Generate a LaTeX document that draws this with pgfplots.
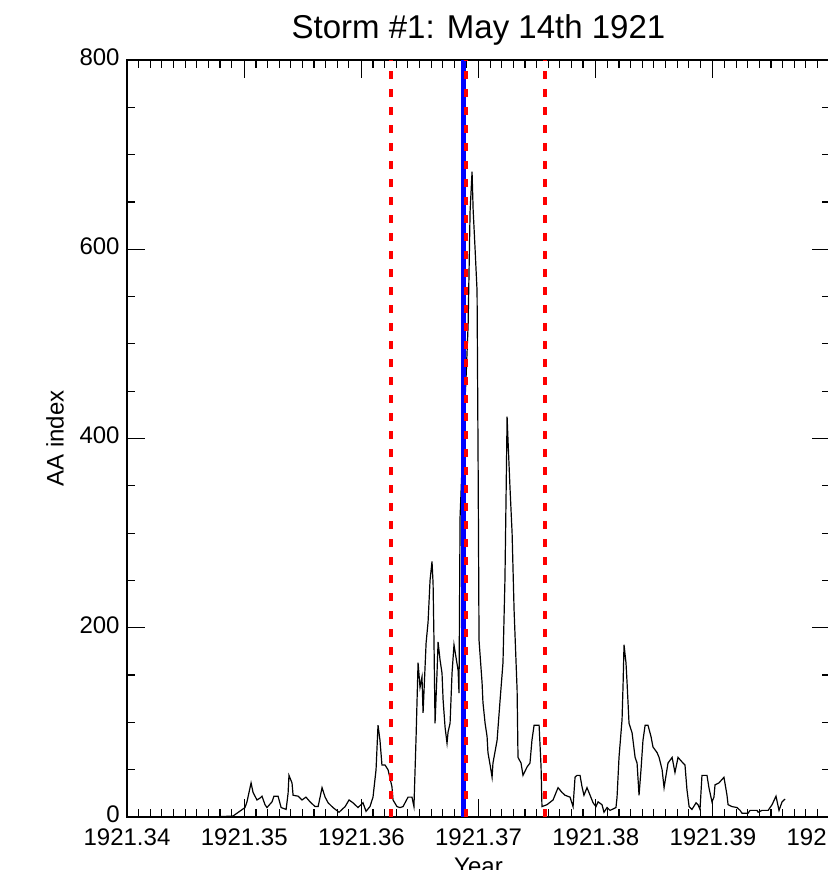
\documentclass[border=0pt]{standalone}
\usepackage{fontspec}
\setmainfont{Liberation Sans}
\usepackage{pgfplots}
\pgfplotsset{compat=1.18}
\usepackage{pgfplotstable}

\pgfplotstableread{
year aa
1921.347254 0
1921.349047 1
1921.350071 10
1921.350242 16
1921.350583 36
1921.350754 26
1921.351095 18
1921.351351 20
1921.351522 22
1921.351778 13
1921.351948 10
1921.352375 16
1921.352546 22
1921.352887 22
1921.353143 10
1921.353570 8
1921.353741 25
1921.353826 44
1921.354082 36
1921.354167 23
1921.354594 22
1921.354936 18
1921.355277 21
1921.355618 16
1921.356045 11
1921.356301 11
1921.356642 31
1921.356899 21
1921.357155 15
1921.357581 10
1921.358094 5
1921.358606 11
1921.358947 18
1921.359288 15
1921.359715 10
1921.360142 15
1921.360398 6
1921.360739 11
1921.360995 21
1921.361251 50
1921.361422 97
1921.361593 81
1921.361763 55
1921.362019 55
1921.362275 50
1921.362617 32
1921.362702 18
1921.363043 11
1921.363300 10
1921.363556 11
1921.363982 21
1921.364324 21
1921.364494 11
1921.364665 85
1921.364836 163
1921.365006 137
1921.365177 148
1921.365262 110
1921.365519 184
1921.365689 206
1921.365860 250
1921.366031 270
1921.366116 247
1921.366201 187
1921.366287 99
1921.366457 152
1921.366543 185
1921.366713 166
1921.366884 152
1921.366969 124
1921.367140 95
1921.367311 78
1921.367396 90
1921.367567 99
1921.367737 152
1921.367908 182
1921.368079 169
1921.368250 155
1921.368335 131
1921.368420 317
1921.368676 400
1921.368932 462
1921.369103 520
1921.369274 640
1921.369444 682
1921.369530 642
1921.369700 600
1921.369871 556
1921.369957 370
1921.370042 187
1921.370298 142
1921.370383 121
1921.370554 99
1921.370725 85
1921.370810 68
1921.370981 55
1921.371151 42
1921.371237 57
1921.371578 81
1921.371834 124
1921.372090 163
1921.372261 251
1921.372346 335
1921.372432 423
1921.372517 399
1921.372688 349
1921.372858 300
1921.373029 219
1921.373285 134
1921.373370 63
1921.373627 57
1921.373797 44
1921.374138 53
1921.374394 57
1921.374565 81
1921.374736 97
1921.375163 97
1921.375333 53
1921.375419 11
1921.375845 13
1921.376358 18
1921.376784 31
1921.377126 26
1921.377382 23
1921.377808 21
1921.378064 11
1921.378235 42
1921.378406 44
1921.378662 44
1921.378833 32
1921.379003 23
1921.379259 31
1921.379515 23
1921.379771 15
1921.380027 11
1921.380198 16
1921.380540 13
1921.380710 5
1921.380966 10
1921.381222 7
1921.381734 10
1921.381820 21
1921.381990 63
1921.382246 103
1921.382332 142
1921.382417 182
1921.382588 163
1921.382673 142
1921.382844 99
1921.383100 89
1921.383356 63
1921.383527 57
1921.383697 23
1921.383868 50
1921.384039 81
1921.384209 97
1921.384465 97
1921.384721 85
1921.384892 74
1921.385234 68
1921.385404 63
1921.385660 50
1921.385831 31
1921.386172 57
1921.386514 63
1921.386770 47
1921.387026 63
1921.387452 57
1921.387623 55
1921.387794 29
1921.387965 11
1921.388221 8
1921.388562 15
1921.388733 13
1921.388903 8
1921.389074 44
1921.389501 44
1921.389671 31
1921.389927 16
1921.390098 21
1921.390183 34
1921.390525 36
1921.390952 42
1921.391208 23
1921.391293 13
1921.391634 11
1921.392061 10
1921.392317 7
1921.392488 4
1921.393000 4
1921.393170 7
1921.393768 7
1921.393853 5
1921.394195 7
1921.394707 7
1921.395048 13
1921.395390 22
1921.395646 7
1921.395902 16
1921.396158 19
}\aadata

\begin{document}
\begin{tikzpicture}
\begin{axis}[
  name=ax,
  scale only axis,
  width=351.5pt, height=378.5pt,
  xmin=1921.34, xmax=1921.40,
  ymin=0, ymax=800,
  axis line style={line width=0.75pt},
  tick style={black, line width=0.6pt},
  tick align=inside,
  major tick length=9pt,
  minor tick length=4pt,
  xtick={1921.34,1921.35,1921.36,1921.37,1921.38,1921.39,1921.40},
  xticklabels={1921.34,1921.35,1921.36,1921.37,1921.38,1921.39,1921.40},
  minor x tick num=9,
  ytick={0,200,400,600,800},
  yticklabels={0,200,400,600,800},
  minor y tick num=3,
  xtick pos=both, ytick pos=both,
  ticklabel style={font=\fontsize{12}{14}\selectfont},
  xticklabel style={inner sep=0pt, anchor=north, yshift=-5.5pt},
  yticklabel style={inner sep=0pt, anchor=east, xshift=-3.5pt, yshift=1.5pt},
  title={Storm \#1: May 14th 1921},
  title style={font=\fontsize{16.5}{19}\selectfont, at={(axis description cs:0.5,1)}, anchor=base, yshift=5pt, inner sep=0pt},
  xlabel={Year},
  xlabel style={font=\fontsize{12}{14}\selectfont, at={(axis description cs:0.5,0)}, anchor=north, yshift=-20.5pt, inner sep=0pt},
  ylabel={AA index},
  ylabel style={font=\fontsize{12}{14}\selectfont, at={(axis description cs:-0.1024,0.5)}, anchor=center, rotate=0},
  clip=true,
]
\addplot[black, line width=0.6pt] table[x=year, y=aa] {\aadata};
\addplot[blue, line width=2.5pt] coordinates {(1921.368676,0) (1921.368676,800)};
\addplot[red, line width=2.2pt, dash pattern=on 4pt off 5pt] coordinates {(1921.362531,0) (1921.362531,800)};
\addplot[red, line width=2.2pt, dash pattern=on 4pt off 5pt] coordinates {(1921.368932,0) (1921.368932,800)};
\addplot[red, line width=2.2pt, dash pattern=on 4pt off 5pt] coordinates {(1921.375675,0) (1921.375675,800)};
\end{axis}
\pgfresetboundingbox
\path[use as bounding box] ([shift={(-63.5pt,-26.5pt)}]ax.south west) rectangle ([shift={(-1pt,30pt)}]ax.north east);
\end{tikzpicture}
\end{document}
